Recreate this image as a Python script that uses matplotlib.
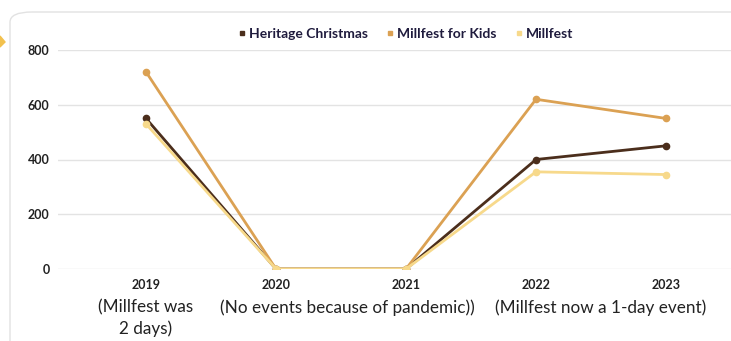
import matplotlib.pyplot as plt
from matplotlib.lines import Line2D
from matplotlib.patches import FancyBboxPatch, Polygon

# Data
years = ["2019", "2020", "2021", "2022", "2023"]
notes = ["(Millfest was\n2 days)", "(No events because of pandemic))", "(Millfest now a 1-day event)"]
note_pos = [0, 1.55, 3.5]
heritage = [550, 0, 0, 400, 450]
kids = [720, 0, 0, 620, 550]
millfest = [530, 0, 0, 355, 345]

series = [("Heritage Christmas", heritage, "#4b2e1c"),
          ("Millfest for Kids", kids, "#dba153"),
          ("Millfest", millfest, "#f7d98b")]

plt.rcParams['font.family'] = ['Lato', 'DejaVu Sans']

fig = plt.figure(figsize=(7.31, 3.41), dpi=100)

# card border and small arrow on the left
card = FancyBboxPatch((10 / 731, -0.2), 1.2, (341 - 12) / 341 + 0.2,
                      boxstyle="round,pad=0,rounding_size=0.03",
                      transform=fig.transFigure, fill=False,
                      edgecolor="#e2e2e2", linewidth=1.0)
fig.patches.append(card)
arrow = Polygon([[0, 1 - 36 / 341], [5 / 731, 1 - 42 / 341], [0, 1 - 47 / 341]],
                closed=True, transform=fig.transFigure, color="#f2c14e")
fig.patches.append(arrow)

ax = fig.add_axes([58 / 731, (341 - 269) / 341, (731 - 58) / 731, (269 - 50) / 341])

x = list(range(len(years)))
for name, vals, col in series:
    ax.plot(x, vals, color=col, linewidth=2, marker="o", markersize=4.5, label=name)

ax.set_ylim(0, 800)
ax.set_xlim(-0.677, 4.5)
ax.grid(axis="y", color="#e3e3e3", linewidth=1)
ax.set_axisbelow(True)
for s in ax.spines.values():
    s.set_visible(False)
ax.tick_params(length=0)
ax.set_yticks([0, 200, 400, 600, 800])
ax.set_yticklabels(["0", "200", "400", "600", "800"], fontsize=9, fontweight="bold", color="#222222")
ax.tick_params(axis="y", pad=6)
ax.set_xticks(x)
ax.set_xticklabels(years, fontsize=9, fontweight="bold", color="#222222")
ax.tick_params(axis="x", pad=7)

# notes below the years
for xi, note in zip(note_pos, notes):
    ax.annotate(note, xy=(xi, 0), xycoords=("data", "axes fraction"),
                xytext=(0, -22), textcoords="offset points",
                ha="center", va="top", fontsize=12.3, color="#222222",
                linespacing=1.35)

handles = [Line2D([], [], linestyle="none", marker="s", markersize=3.5, color=c) for _, _, c in series]
fig.legend(handles, [n for n, _, _ in series], loc="center", bbox_to_anchor=(405 / 731, 1 - 34 / 341),
           ncol=3, frameon=False, handletextpad=0.1, columnspacing=1.2, handlelength=0.8,
           prop={"weight": "bold", "size": 10}, labelcolor="#1f1b3d")

fig.savefig("out.png", dpi=100)
